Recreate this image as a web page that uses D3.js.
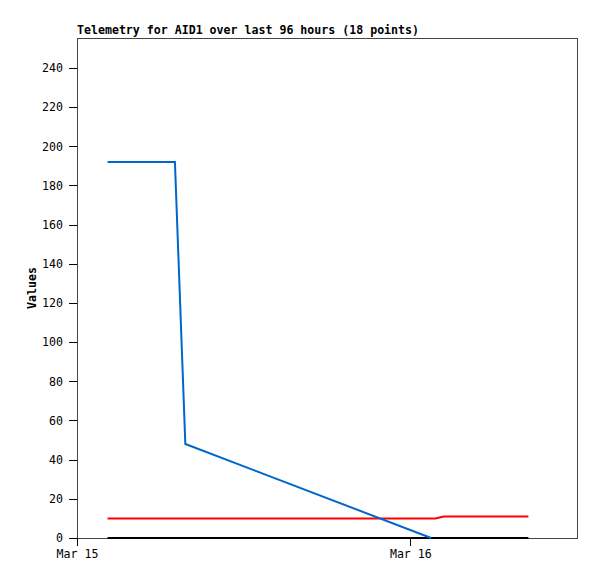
<!DOCTYPE html>
<html lang="en">
<head>
  <meta charset="UTF-8">
  <title>Telemetry</title>
  <script src="https://d3js.org/d3.v7.min.js"></script>
  <style>
    body { margin: 0; background: #fff; }
    text { font-family: "DejaVu Sans Mono", monospace; font-size: 11.6px; fill: #000; }
    .title, .ylabel { font-weight: bold; }
    .line { fill: none; stroke-width: 2px; }
  </style>
</head>
<body>
  <script>
    const width = 597;
    const height = 579;
    const margin = {top: 38, right: 20, bottom: 41, left: 77};

    // hours after Mar 15 00:00
    const blueHours = [2.2, 7.05, 7.8, 25.5];
    const blueValues = [192, 192, 48, 0];
    const redHours = [2.2, 25.8, 26.4, 32.5];
    const redValues = [10, 10, 11, 11];
    const blackHours = [2.2, 32.5];
    const blackValues = [0, 0];

    const start = new Date(2024, 2, 15);
    const end = new Date(2024, 2, 16, 12);
    const yTicks = d3.range(0, 241, 20);

    const toPts = (hrs, vals) => hrs.map((hr, i) => ({t: start.getTime() + hr * 3600e3, v: vals[i]}));

    const svg = d3.select("body").append("svg")
      .attr("width", width).attr("height", height);
    const g = svg.append("g").attr("transform", `translate(${margin.left},${margin.top})`);

    const w = width - margin.left - margin.right;
    const h = height - margin.top - margin.bottom;

    const x = d3.scaleTime().domain([start, end]).range([0, w]);
    const y = d3.scaleLinear().domain([0, 255.3]).range([h, 0]);

    // frame
    g.append("rect").attr("width", w).attr("height", h)
      .attr("fill", "none").attr("stroke", "#444").attr("stroke-width", 1)
      .attr("shape-rendering", "crispEdges");

    const yAxis = g.append("g").call(d3.axisLeft(y).tickValues(yTicks).tickSize(8).tickPadding(6));
    const xAxis = g.append("g").attr("transform", `translate(0,${h})`)
      .call(d3.axisBottom(x).ticks(d3.timeDay.every(1)).tickFormat(d3.timeFormat("%b %d")).tickSize(8).tickPadding(4));
    [yAxis, xAxis].forEach(a => {
      a.select(".domain").remove();
      a.selectAll("line").attr("stroke", "#000").attr("shape-rendering", "crispEdges");
      a.selectAll("text").attr("font-family", "DejaVu Sans Mono").attr("font-size", 11.6);
    });

    const line = d3.line().x(d => x(d.t)).y(d => y(d.v));

    const series = [
      {pts: toPts(blackHours, blackValues), color: "#000000"},
      {pts: toPts(redHours, redValues), color: "#ff0000"},
      {pts: toPts(blueHours, blueValues), color: "#0066cc"}
    ];
    g.selectAll(".line").data(series).enter().append("path")
      .attr("class", "line")
      .attr("stroke", d => d.color)
      .attr("d", d => line(d.pts));

    svg.append("text").attr("class", "title")
      .attr("x", margin.left).attr("y", 34)
      .text("Telemetry for AID1 over last 96 hours (18 points)");

    svg.append("text").attr("class", "ylabel")
      .attr("transform", `translate(36,${margin.top + h / 2}) rotate(-90)`)
      .attr("text-anchor", "middle")
      .text("Values");
  </script>
</body>
</html>
